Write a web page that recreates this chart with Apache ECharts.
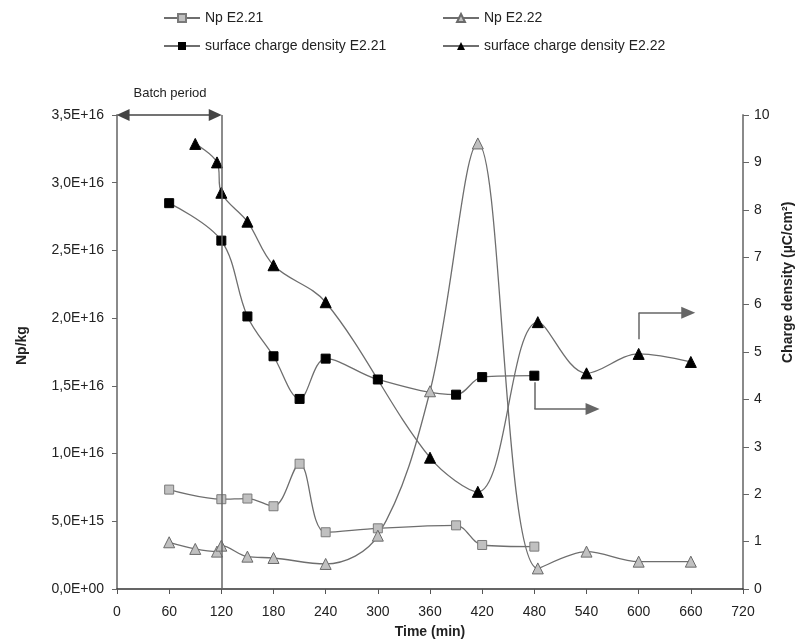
<!DOCTYPE html>
<html>
<head>
<meta charset="utf-8">
<script src="https://cdn.jsdelivr.net/npm/echarts@6/dist/echarts.min.js"></script>
<style>
html,body{margin:0;padding:0;background:#fff;}
#chart{width:806px;height:641px;}
</style>
</head>
<body>
<div id="chart"></div>
<script>
// ---- data ----
const timeNp21 = [60, 120, 150, 180, 210, 240, 300, 390, 420, 480];
const np21 = [7.34e15, 6.63e15, 6.68e15, 6.11e15, 9.25e15, 4.19e15, 4.48e15, 4.7e15, 3.25e15, 3.13e15];
const timeNp22 = [60, 90, 115, 120, 150, 180, 240, 300, 360, 415, 484, 540, 600, 660];
const np22 = [3.45e15, 2.96e15, 2.76e15, 3.2e15, 2.39e15, 2.29e15, 1.85e15, 3.94e15, 1.46e16, 3.29e16, 1.52e15, 2.76e15, 2.02e15, 2.02e15];
const timeQ21 = [60, 120, 150, 180, 210, 240, 300, 390, 420, 480];
const q21 = [8.14, 7.35, 5.75, 4.91, 4.01, 4.86, 4.42, 4.1, 4.47, 4.5];
const timeQ22 = [90, 115, 120, 150, 180, 240, 360, 415, 484, 540, 600, 660];
const q22 = [9.39, 9.0, 8.36, 7.75, 6.83, 6.05, 2.77, 2.05, 5.63, 4.55, 4.96, 4.79];
const seriesNames = ['Np E2.21', 'Np E2.22', 'surface charge density E2.21', 'surface charge density E2.22'];
const xTicks = [0, 60, 120, 180, 240, 300, 360, 420, 480, 540, 600, 660, 720];
const batchEnd = 120;

const zip = (xs, ys) => xs.map((x, i) => [x, ys[i]]);
function sciComma(v) {
  if (v === 0) return '0,0E+00';
  const e = Math.floor(Math.log10(v) + 1e-9);
  const m = v / Math.pow(10, e);
  return m.toFixed(1).replace('.', ',') + 'E+' + (e < 10 ? '0' + e : e);
}
const lineCol = '#6e6e6e';
const font = 'Liberation Sans, Arial, sans-serif';

const chart = echarts.init(document.getElementById('chart'));
chart.setOption({
  backgroundColor: '#fff',
  animation: false,
  textStyle: { fontFamily: font },
  grid: { left: 117, right: 63, top: 115, bottom: 52, containLabel: false, outerBoundsMode: 'none' },
  legend: [
    { left: 158, top: 6, orient: 'vertical', itemGap: 14, itemWidth: 36, itemHeight: 10,
      textStyle: { fontSize: 14, color: '#222', fontFamily: font }, data: [seriesNames[0], seriesNames[2]] },
    { left: 437, top: 6, orient: 'vertical', itemGap: 14, itemWidth: 36, itemHeight: 10,
      textStyle: { fontSize: 14, color: '#222', fontFamily: font }, data: [seriesNames[1], seriesNames[3]] }
  ],
  xAxis: {
    type: 'value', min: 0, max: 720, interval: 60,
    name: 'Time (min)', nameLocation: 'middle', nameGap: 36,
    nameTextStyle: { fontSize: 14, fontWeight: 'bold', color: '#222', fontFamily: font },
    axisLine: { onZero: false, lineStyle: { color: '#333', width: 1.5 } },
    axisTick: { length: 5, lineStyle: { color: '#555' } },
    axisLabel: { fontSize: 14, color: '#222', margin: 16, fontFamily: font,
      formatter: v => xTicks.indexOf(v) >= 0 ? String(v) : '' },
    splitLine: { show: false }
  },
  yAxis: [
    {
      type: 'value', min: 0, max: 3.5e16, interval: 5e15, position: 'left',
      axisLine: { show: true, lineStyle: { color: '#8a8a8a', width: 2 } },
      axisTick: { show: true, length: 5, lineStyle: { color: '#666' } },
      axisLabel: { fontSize: 14, color: '#222', margin: 13, formatter: sciComma, fontFamily: font },
      splitLine: { show: false }
    },
    {
      type: 'value', min: 0, max: 10, interval: 1, position: 'right',
      axisLine: { show: true, lineStyle: { color: '#8a8a8a', width: 2 } },
      axisTick: { show: true, length: 6, lineStyle: { color: '#666' } },
      axisLabel: { fontSize: 14, color: '#222', margin: 11, fontFamily: font },
      splitLine: { show: false }
    }
  ],
  graphic: [
    { type: 'text', rotation: Math.PI / 2, x: 15, y: 365,
      style: { text: 'Np/kg', fontSize: 14, fontWeight: 'bold', fill: '#222', fontFamily: font } },
    { type: 'text', style: { text: 'Batch period', fontSize: 13, fill: '#222', fontFamily: font,
      x: 170, y: 93, textAlign: 'center', textVerticalAlign: 'middle' } },
    { type: 'text', rotation: Math.PI / 2, x: 781, y: 363,
      style: { text: 'Charge density (µC/cm²)', fontSize: 14, fontWeight: 'bold', fill: '#222', fontFamily: font } }
  ],
  series: [
    {
      name: seriesNames[0], type: 'line', yAxisIndex: 0, data: zip(timeNp21, np21), smooth: 0.35,
      symbol: 'rect', symbolSize: 9,
      lineStyle: { color: lineCol, width: 1.3 },
      itemStyle: { color: '#c0c0c0', borderColor: '#7a7a7a', borderWidth: 1 },
      markLine: {
        silent: true, label: { show: false },
        lineStyle: { color: '#444', width: 1.5, type: 'solid' },
        data: [
          [{ coord: [7, 3.5e16], symbol: 'triangle', symbolSize: [12, 13] },
           { coord: [batchEnd - 7, 3.5e16], symbol: 'triangle', symbolSize: [12, 13] }],
          [{ coord: [batchEnd, 0], symbol: 'none', lineStyle: { color: '#666' } },
           { coord: [batchEnd, 3.5e16], symbol: 'none' }]
        ]
      }
    },
    {
      name: seriesNames[1], type: 'line', yAxisIndex: 0, data: zip(timeNp22, np22), smooth: 0.35,
      symbol: 'triangle', symbolSize: 11,
      lineStyle: { color: lineCol, width: 1.3 },
      itemStyle: { color: '#c0c0c0', borderColor: '#6a6a6a', borderWidth: 1 }
    },
    {
      name: seriesNames[2], type: 'line', yAxisIndex: 1, data: zip(timeQ21, q21), smooth: 0.35,
      symbol: 'rect', symbolSize: 9,
      lineStyle: { color: lineCol, width: 1.3 },
      itemStyle: { color: '#000', borderColor: '#000' },
      markLine: {
        silent: true, label: { show: false },
        lineStyle: { color: '#666', width: 1.5, type: 'solid' },
        data: [
          [{ coord: [480, 4.36], symbol: 'none' }, { coord: [480, 3.8], symbol: 'none' }],
          [{ coord: [480, 3.8], symbol: 'none' }, { coord: [547, 3.8], symbol: 'triangle', symbolSize: [12, 14] }],
          [{ coord: [600, 5.27], symbol: 'none' }, { coord: [600, 5.83], symbol: 'none' }],
          [{ coord: [600, 5.83], symbol: 'none' }, { coord: [657, 5.83], symbol: 'triangle', symbolSize: [12, 14] }]
        ]
      }
    },
    {
      name: seriesNames[3], type: 'line', yAxisIndex: 1, data: zip(timeQ22, q22), smooth: 0.35,
      symbol: 'triangle', symbolSize: 11,
      lineStyle: { color: lineCol, width: 1.3 },
      itemStyle: { color: '#000', borderColor: '#000' }
    }
  ]
});
</script>
</body>
</html>
